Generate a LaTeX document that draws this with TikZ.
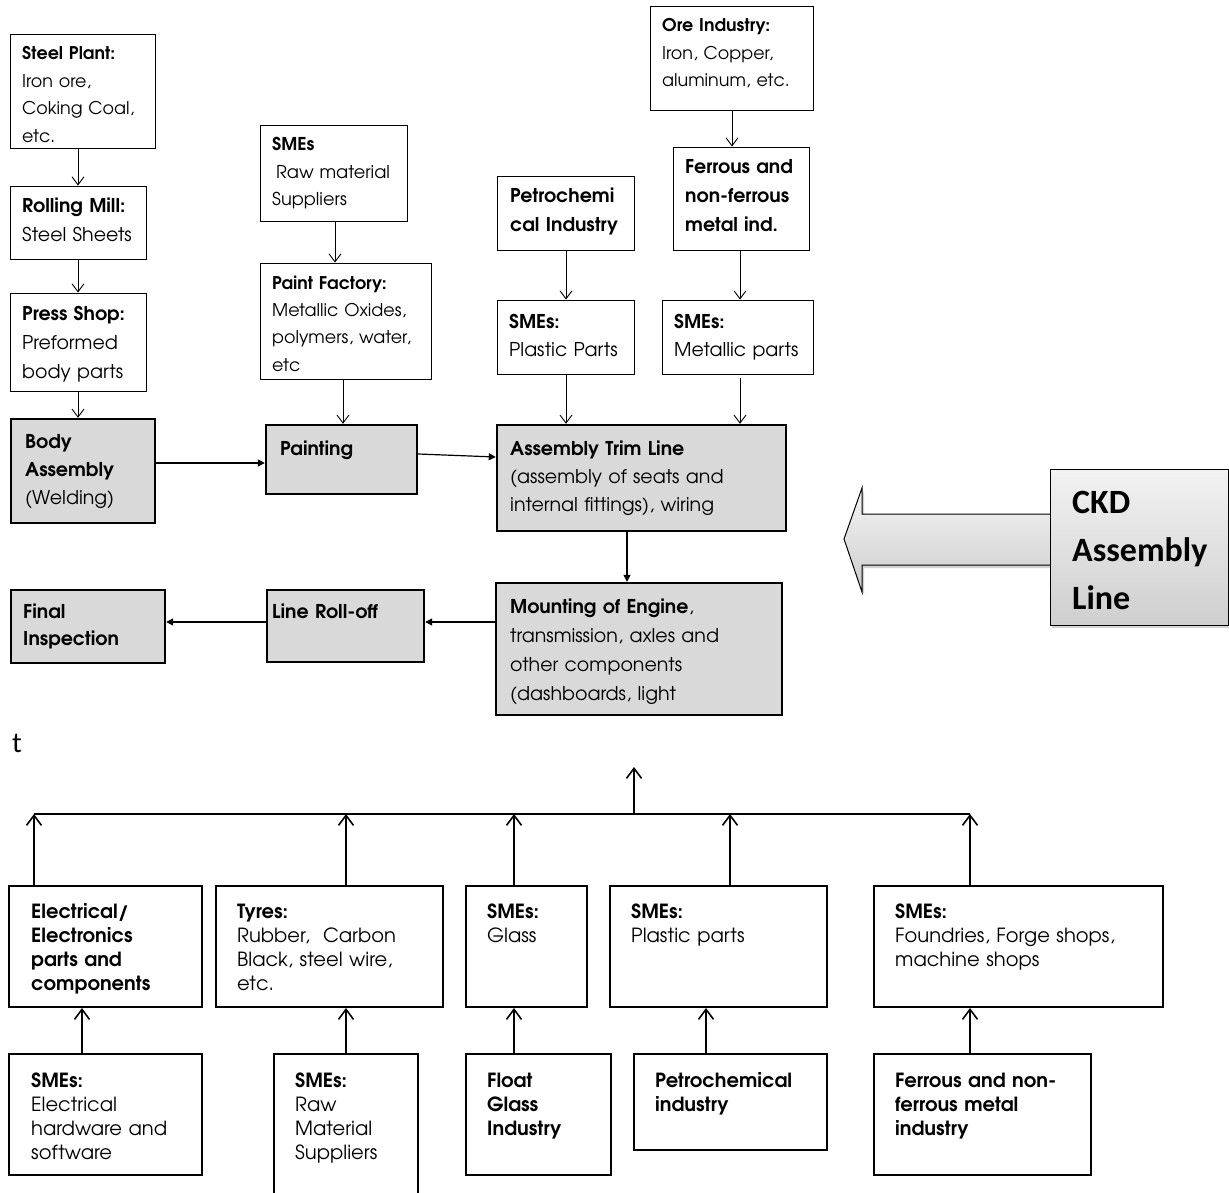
\documentclass[tikz,border=0pt]{standalone}
\usepackage{fontspec}
\setmainfont{TeX Gyre Adventor}
\newfontfamily\calibri{Carlito}
\usetikzlibrary{arrows.meta,fit,shadows}
\definecolor{boxgray}{HTML}{D9D9D9}
\begin{document}
\begin{tikzpicture}[x=1pt,y=-1pt,
  wbox/.style={draw=black, line width=0.9pt, inner sep=0pt},
  gbox/.style={draw=black, fill=boxgray, line width=2.4pt, inner sep=0pt},
  bbox/.style={draw=black, line width=2pt, inner sep=0pt},
  tx/.style 2 args={anchor=base west, align=left, inner sep=0pt, text width=400pt, font=\fontsize{#1}{#2}\selectfont},
  ta/.style={line width=0.9pt, -{Straight Barb[length=8pt,width=12pt,line width=0.9pt]}},
  fa/.style={line width=1.2pt, -{Triangle[length=7pt,width=7pt]}},
  ba/.style={line width=1.6pt, -{Straight Barb[length=10pt,width=15pt,line width=1.6pt]}}
]
\useasboundingbox (0,0) rectangle (1229,1193);

% ---------- top section boxes ----------
\node[wbox, fit={(10,34) (155,148)}] (steel) {};
\node[tx={17.5}{27.4}] (steel-t) at (22,60) {\textbf{Steel Plant:}\\Iron ore,\\Coking Coal,\\etc.};
\node[wbox, fit={(10,186) (146,259)}] (roll) {};
\node[tx={19}{29}] (roll-t) at (22,213) {\textbf{Rolling Mill:}\\Steel Sheets};
\node[wbox, fit={(10,293) (146,391)}] (press) {};
\node[tx={19}{29}] (press-t) at (22,320) {\textbf{Press Shop:}\\Preformed\\body parts};
\node[gbox, fit={(11,419) (155,523)}] (body) {};
\node[tx={19}{28.3}] (body-t) at (25,448) {\textbf{Body}\\\textbf{Assembly}\\(Welding)};

\node[wbox, fit={(260,125) (407,221)}] (smeraw) {};
\node[tx={17.7}{27.4}] (smeraw-t) at (272,151) {\textbf{SMEs}\\\hspace*{4pt}Raw material\\Suppliers};
\node[wbox, fit={(260,263) (431,379)}] (paintf) {};
\node[tx={17.5}{27.4}] (paintf-t) at (272,289) {\textbf{Paint Factory:}\\Metallic Oxides,\\polymers, water,\\etc};
\node[gbox, fit={(266,425) (417,494)}] (painting) {};
\node[tx={19}{28}] (painting-t) at (280,455) {\textbf{Painting}};

\node[wbox, fit={(650,6) (813,110)}] (ore) {};
\node[tx={17.5}{27.4}] (ore-t) at (662,32) {\textbf{Ore Industry:}\\Iron, Copper,\\aluminum, etc.};
\node[wbox, fit={(673,147) (809,250)}] (ferr) {};
\node[tx={19}{29}] (ferr-t) at (685,174) {\textbf{Ferrous and}\\\textbf{non-ferrous}\\\textbf{metal ind.}};
\node[wbox, fit={(497,176) (634,250)}] (petro) {};
\node[tx={19}{28.5}] (petro-t) at (510,203) {\textbf{Petrochemi}\\\textbf{cal Industry}};
\node[wbox, fit={(497,300) (634,374)}] (smepl) {};
\node[tx={19}{28.4}] (smepl-t) at (509,328) {\textbf{SMEs:}\\Plastic Parts};
\node[wbox, fit={(662,300) (813,374)}] (smemet) {};
\node[tx={19}{28.4}] (smemet-t) at (674,328) {\textbf{SMEs:}\\Metallic parts};
\node[gbox, fit={(497,425) (786,531)}] (trim) {};
\node[tx={19}{28.4}] (trim-t) at (510,455) {\textbf{Assembly Trim Line}\\(assembly of seats and\\internal fittings), wiring};
\node[gbox, fit={(496,583) (782,715)}] (mount) {};
\node[tx={19}{29}] (mount-t) at (510,613) {\textbf{Mounting of Engine},\\transmission, axles and\\other components\\(dashboards, light};
\node[gbox, fit={(11,590) (165,663)}] (final) {};
\node[tx={19}{27}] (final-t) at (23,618) {\textbf{Final}\\\textbf{Inspection}};
\node[gbox, fit={(267,590) (424,662)}] (rolloff) {};
\node[tx={19}{28}] (rolloff-t) at (272,618) {\textbf{Line Roll-off}};

% ---------- CKD arrow ----------
\shade[top color=gray!8, bottom color=gray!40, draw=black, line width=1pt,
  drop shadow={opacity=0.35, shadow xshift=2pt, shadow yshift=-3pt}]
  (844,539) -- (862,488) -- (862,514) -- (1052,514) -- (1052,565) -- (862,565) -- (862,592) -- cycle;
\node[draw=black, line width=1pt, inner sep=0pt, top color=gray!10, bottom color=gray!38,
  drop shadow={opacity=0.35, shadow xshift=2pt, shadow yshift=-3pt},
  fit={(1050,469) (1228,625)}] (ckd) {};
\node[anchor=base west, align=left, inner sep=0pt, text width=170pt,
  font=\calibri\bfseries\fontsize{34}{48}\selectfont] (ckd-t) at (1072,513) {CKD\\Assembly\\Line};

\node[anchor=base west, inner sep=0pt, font=\calibri\fontsize{29}{30}\selectfont] (tchar) at (12,752) {t};

% ---------- top arrows ----------
\coordinate (x78) at (78,0);
\coordinate (x335) at (335,0);
\coordinate (x343) at (343,0);
\coordinate (x732) at (732,0);
\coordinate (x566) at (566,0);
\coordinate (x740) at (740,0);
\coordinate (x627) at (627,0);
\coordinate (y463) at (0,463);
\coordinate (y454) at (0,454);
\coordinate (y457) at (0,457);
\coordinate (y622) at (0,622);
\draw[ta] (x78 |- steel.south) -- (x78 |- roll.north);
\draw[ta] (x78 |- roll.south) -- (x78 |- press.north);
\draw[ta] (x78 |- press.south) -- (x78 |- body.north);
\draw[ta] (x335 |- smeraw.south) -- (x335 |- paintf.north);
\draw[ta] (x343 |- paintf.south) -- (x343 |- painting.north);
\draw[ta] (x732 |- ore.south) -- (x732 |- ferr.north);
\draw[ta] (x566 |- petro.south) -- (x566 |- smepl.north);
\draw[ta] (x740 |- ferr.south) -- (x740 |- smemet.north);
\draw[ta] (x566 |- smepl.south) -- (x566 |- trim.north);
\draw[ta] ([yshift=-4pt]x740 |- smemet.south) -- (x740 |- trim.north);
\draw[fa] (body.east |- y463) -- (painting.west |- y463);
\draw[fa] (painting.east |- y454) -- (trim.west |- y457);
\draw[fa] (x627 |- trim.south) -- (x627 |- mount.north);
\draw[fa] (mount.west |- y622) -- (rolloff.east |- y622);
\draw[fa] (rolloff.west |- y622) -- (final.east |- y622);

% ---------- bottom section ----------
\node[bbox, fit={(9,886) (202,1007)}] (e1) {};
\node[tx={19.5}{24.2}] (e1-t) at (31,918) {\textbf{Electrical/}\\\textbf{Electronics}\\\textbf{parts and}\\\textbf{components}};
\node[bbox, fit={(216,886) (443,1007)}] (t1) {};
\node[tx={19.5}{24.2}] (t1-t) at (237,918) {\textbf{Tyres:}\\Rubber,\ \ Carbon\\Black, steel wire,\\etc.};
\node[bbox, fit={(466,886) (587,1007)}] (g1) {};
\node[tx={19.5}{24.2}] (g1-t) at (487,918) {\textbf{SMEs:}\\Glass};
\node[bbox, fit={(610,886) (827,1007)}] (p1) {};
\node[tx={19.5}{24.2}] (p1-t) at (631,918) {\textbf{SMEs:}\\Plastic parts};
\node[bbox, fit={(874,886) (1163,1007)}] (f1) {};
\node[tx={19.5}{24.2}] (f1-t) at (895,918) {\textbf{SMEs:}\\Foundries, Forge shops,\\machine shops};

\node[bbox, fit={(9,1054) (202,1175)}] (e2) {};
\node[tx={19.5}{24.2}] (e2-t) at (31,1087) {\textbf{SMEs:}\\Electrical\\hardware and\\software};
\node[bbox, fit={(274,1054) (418,1205)}] (r2) {};
\node[tx={19.5}{24.2}] (r2-t) at (295,1087) {\textbf{SMEs:}\\Raw\\Material\\Suppliers};
\node[bbox, fit={(466,1054) (611,1175)}] (g2) {};
\node[tx={19.5}{24.2}] (g2-t) at (487,1087) {\textbf{Float}\\\textbf{Glass}\\\textbf{Industry}};
\node[bbox, fit={(634,1054) (827,1150)}] (p2) {};
\node[tx={19.5}{24.2}] (p2-t) at (655,1087) {\textbf{Petrochemical}\\\textbf{industry}};
\node[bbox, fit={(874,1054) (1091,1175)}] (f2) {};
\node[tx={19.5}{24.2}] (f2-t) at (895,1087) {\textbf{Ferrous and non-}\\\textbf{ferrous metal}\\\textbf{industry}};

\coordinate (b1) at (34,814);
\coordinate (b2) at (346,814);
\coordinate (b3) at (514,814);
\coordinate (b4) at (730,814);
\coordinate (b5) at (970,814);
\coordinate (bm) at (634,814);
\coordinate (btop) at (634,767);
\coordinate (x82) at (82,0);
\coordinate (x706) at (706,0);
\draw[line width=1.6pt] (b1) -- (b5);
\draw[ba] (bm) -- (btop);
\draw[ba] (b1 |- e1.north) -- (b1);
\draw[ba] (b2 |- t1.north) -- (b2);
\draw[ba] (b3 |- g1.north) -- (b3);
\draw[ba] (b4 |- p1.north) -- (b4);
\draw[ba] (b5 |- f1.north) -- (b5);
\draw[ba] (x82 |- e2.north) -- (x82 |- e1.south);
\draw[ba] (b2 |- r2.north) -- (b2 |- t1.south);
\draw[ba] (b3 |- g2.north) -- (b3 |- g1.south);
\draw[ba] (x706 |- p2.north) -- (x706 |- p1.south);
\draw[ba] (b5 |- f2.north) -- (b5 |- f1.south);
\end{tikzpicture}
\end{document}
